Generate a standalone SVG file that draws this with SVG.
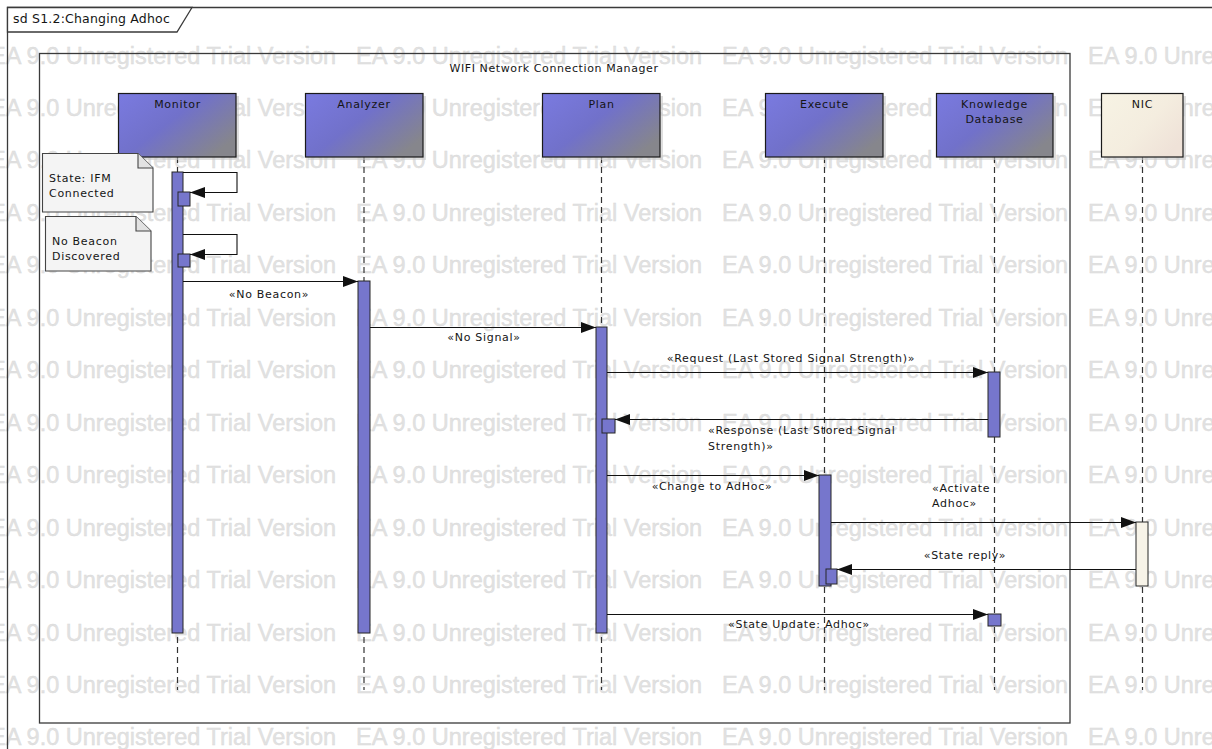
<svg xmlns="http://www.w3.org/2000/svg" xmlns:xlink="http://www.w3.org/1999/xlink" width="1212" height="749" viewBox="0 0 1212 749">
<style>
.lbl{font-family:"DejaVu Sans",Verdana,sans-serif;font-size:11px;letter-spacing:0.7px;fill:#151515}
.ttl{font-family:"DejaVu Sans",Verdana,sans-serif;font-size:12.5px;letter-spacing:0.2px;fill:#151515}
.wm{font-family:"Liberation Sans",Arial,sans-serif;font-size:23.5px;fill:#e2e2e2;stroke:#d9d9d9;stroke-width:0.4}
.frame{fill:none;stroke:#3a3a3a;stroke-width:1.3}
.box{fill:url(#gBox);stroke:#1a1a1a;stroke-width:1.2}
.nic{fill:url(#gNic);stroke:#1a1a1a;stroke-width:1.2}
.shadow{fill:#c8c8c8;opacity:0.6}
.act{fill:#7676cc;stroke:#262626;stroke-width:1}
.actn{fill:#f7f3e8;stroke:#262626;stroke-width:1}
.life{stroke:#333;stroke-width:1.2;stroke-dasharray:6,4;fill:none}
.msg{stroke:#111;stroke-width:1.1;fill:none;marker-end:url(#ah)}
.note{fill:#f4f4f4;stroke:#444;stroke-width:1.1}
</style>
<defs>
<linearGradient id="gBox" x1="0" y1="0" x2="1" y2="0.7">
<stop offset="0" stop-color="#7a7ae0"/>
<stop offset="0.5" stop-color="#7171ca"/>
<stop offset="1" stop-color="#86868c"/>
</linearGradient>
<linearGradient id="gNic" x1="0" y1="0" x2="1" y2="0.7">
<stop offset="0" stop-color="#f7f3e4"/>
<stop offset="0.6" stop-color="#f4eddf"/>
<stop offset="1" stop-color="#efe2d8"/>
</linearGradient>
<marker id="ah" markerUnits="userSpaceOnUse" markerWidth="15" markerHeight="11" refX="15" refY="5.5" orient="auto">
<path d="M0,0 L15,5.5 L0,11 z" fill="#111"/>
</marker>
<text id="wmt" class="wm">EA 9.0 Unregistered Trial Version</text>
</defs>

<rect x="0" y="0" width="1212" height="749" fill="#ffffff"/>

<g id="watermark">
<use xlink:href="#wmt" x="-10" y="63.5"/><use xlink:href="#wmt" x="356" y="63.5"/><use xlink:href="#wmt" x="722" y="63.5"/><use xlink:href="#wmt" x="1088" y="63.5"/>
<use xlink:href="#wmt" x="-10" y="116"/><use xlink:href="#wmt" x="356" y="116"/><use xlink:href="#wmt" x="722" y="116"/><use xlink:href="#wmt" x="1088" y="116"/>
<use xlink:href="#wmt" x="-10" y="168.4"/><use xlink:href="#wmt" x="356" y="168.4"/><use xlink:href="#wmt" x="722" y="168.4"/><use xlink:href="#wmt" x="1088" y="168.4"/>
<use xlink:href="#wmt" x="-10" y="220.9"/><use xlink:href="#wmt" x="356" y="220.9"/><use xlink:href="#wmt" x="722" y="220.9"/><use xlink:href="#wmt" x="1088" y="220.9"/>
<use xlink:href="#wmt" x="-10" y="273.3"/><use xlink:href="#wmt" x="356" y="273.3"/><use xlink:href="#wmt" x="722" y="273.3"/><use xlink:href="#wmt" x="1088" y="273.3"/>
<use xlink:href="#wmt" x="-10" y="325.8"/><use xlink:href="#wmt" x="356" y="325.8"/><use xlink:href="#wmt" x="722" y="325.8"/><use xlink:href="#wmt" x="1088" y="325.8"/>
<use xlink:href="#wmt" x="-10" y="378.2"/><use xlink:href="#wmt" x="356" y="378.2"/><use xlink:href="#wmt" x="722" y="378.2"/><use xlink:href="#wmt" x="1088" y="378.2"/>
<use xlink:href="#wmt" x="-10" y="430.7"/><use xlink:href="#wmt" x="356" y="430.7"/><use xlink:href="#wmt" x="722" y="430.7"/><use xlink:href="#wmt" x="1088" y="430.7"/>
<use xlink:href="#wmt" x="-10" y="483.1"/><use xlink:href="#wmt" x="356" y="483.1"/><use xlink:href="#wmt" x="722" y="483.1"/><use xlink:href="#wmt" x="1088" y="483.1"/>
<use xlink:href="#wmt" x="-10" y="535.6"/><use xlink:href="#wmt" x="356" y="535.6"/><use xlink:href="#wmt" x="722" y="535.6"/><use xlink:href="#wmt" x="1088" y="535.6"/>
<use xlink:href="#wmt" x="-10" y="588"/><use xlink:href="#wmt" x="356" y="588"/><use xlink:href="#wmt" x="722" y="588"/><use xlink:href="#wmt" x="1088" y="588"/>
<use xlink:href="#wmt" x="-10" y="640.5"/><use xlink:href="#wmt" x="356" y="640.5"/><use xlink:href="#wmt" x="722" y="640.5"/><use xlink:href="#wmt" x="1088" y="640.5"/>
<use xlink:href="#wmt" x="-10" y="692.9"/><use xlink:href="#wmt" x="356" y="692.9"/><use xlink:href="#wmt" x="722" y="692.9"/><use xlink:href="#wmt" x="1088" y="692.9"/>
<use xlink:href="#wmt" x="-10" y="745.4"/><use xlink:href="#wmt" x="356" y="745.4"/><use xlink:href="#wmt" x="722" y="745.4"/><use xlink:href="#wmt" x="1088" y="745.4"/>
</g>

<g id="outer-frame">
<path class="frame" d="M7.5,749 V7.5 H1212"/>
<path d="M7.5,7.5 H192 L177,32 H7.5 Z" fill="#ffffff" stroke="#3a3a3a" stroke-width="1.3"/>
<text class="ttl" x="13" y="23">sd S1.2:Changing Adhoc</text>
</g>

<g id="wifi-manager">
<rect class="frame" x="39.5" y="53.5" width="1030.5" height="669.5"/>
<text class="lbl" x="554" y="72" text-anchor="middle" style="letter-spacing:0.6px">WIFI Network Connection Manager</text>
</g>

<g id="lifelines">
<line class="life" x1="177.5" y1="157" x2="177.5" y2="690"/>
<line class="life" x1="364" y1="157" x2="364" y2="690"/>
<line class="life" x1="601.5" y1="157" x2="601.5" y2="690"/>
<line class="life" x1="824.5" y1="157" x2="824.5" y2="690"/>
<line class="life" x1="994.5" y1="157" x2="994.5" y2="690"/>
<line class="life" x1="1142.5" y1="157" x2="1142.5" y2="690"/>
</g>

<g id="monitor">
<rect class="shadow" x="121" y="96" width="118" height="64"/>
<rect class="box" x="118.5" y="93.5" width="117.5" height="63.5"/>
<text class="lbl" x="177.5" y="108" text-anchor="middle">Monitor</text>
</g>
<g id="analyzer">
<rect class="shadow" x="308" y="96" width="118" height="64"/>
<rect class="box" x="305.5" y="93.5" width="117.5" height="63.5"/>
<text class="lbl" x="364" y="108" text-anchor="middle">Analyzer</text>
</g>
<g id="plan">
<rect class="shadow" x="545" y="96" width="118" height="64"/>
<rect class="box" x="542.5" y="93.5" width="117.5" height="63.5"/>
<text class="lbl" x="601.5" y="108" text-anchor="middle">Plan</text>
</g>
<g id="execute">
<rect class="shadow" x="768" y="96" width="118" height="64"/>
<rect class="box" x="765.5" y="93.5" width="117.5" height="63.5"/>
<text class="lbl" x="824.5" y="108" text-anchor="middle">Execute</text>
</g>
<g id="knowledge-database">
<rect class="shadow" x="939" y="96" width="117" height="64"/>
<rect class="box" x="936.5" y="93.5" width="116.5" height="63.5"/>
<text class="lbl" x="994.5" y="108" text-anchor="middle">Knowledge</text>
<text class="lbl" x="994.5" y="123" text-anchor="middle">Database</text>
</g>
<g id="nic">
<rect class="shadow" x="1104" y="96" width="82" height="64"/>
<rect class="nic" x="1101.5" y="93.5" width="81.5" height="63.5"/>
<text class="lbl" x="1142.5" y="108" text-anchor="middle">NIC</text>
</g>

<g id="activations">
<rect class="act" x="172" y="172" width="11" height="461"/>
<rect class="act" x="178" y="192" width="12" height="14"/>
<rect class="act" x="178" y="254" width="12" height="13"/>
<rect class="act" x="358" y="281" width="12" height="352"/>
<rect class="act" x="596" y="327" width="11" height="306"/>
<rect class="act" x="602" y="419" width="13" height="14"/>
<rect class="act" x="988" y="372" width="12" height="65"/>
<rect class="act" x="819" y="475" width="12" height="111"/>
<rect class="act" x="826" y="569" width="11" height="15"/>
<rect class="actn" x="1136" y="522" width="12" height="64"/>
<rect class="act" x="988" y="614" width="13" height="12"/>
</g>

<g id="note-state">
<path class="note" d="M42.5,153.5 H138 L153,168 V212 H42.5 Z"/>
<path d="M138,153.5 V168 H153" fill="#e2e2e2" stroke="#444" stroke-width="1.1"/>
<text class="lbl" x="49" y="182">State: IFM</text>
<text class="lbl" x="49" y="197">Connected</text>
</g>
<g id="note-beacon">
<path class="note" d="M45.5,216.5 H136 L151,231 V271 H45.5 Z"/>
<path d="M136,216.5 V231 H151" fill="#e2e2e2" stroke="#444" stroke-width="1.1"/>
<text class="lbl" x="52" y="245">No Beacon</text>
<text class="lbl" x="52" y="260">Discovered</text>
</g>

<g id="connectors">
<path class="msg" d="M183,172.5 H237 V192.5 H190"/>
<path class="msg" d="M183,234.5 H237 V254.5 H190"/>
<path class="msg" d="M183,281.5 H358"/>
<text class="lbl" x="269" y="298" text-anchor="middle">«No Beacon»</text>
<path class="msg" d="M370,327.5 H596"/>
<text class="lbl" x="484" y="341" text-anchor="middle">«No Signal»</text>
<path class="msg" d="M607,372.5 H988"/>
<text class="lbl" x="791" y="362" text-anchor="middle">«Request (Last Stored Signal Strength)»</text>
<path class="msg" d="M988,419.5 H615"/>
<text class="lbl" x="708" y="434">«Response (Last Stored Signal</text>
<text class="lbl" x="708" y="450">Strength)»</text>
<path class="msg" d="M607,475.5 H819"/>
<text class="lbl" x="712" y="490" text-anchor="middle">«Change to AdHoc»</text>
<path class="msg" d="M831,522.5 H1136"/>
<text class="lbl" x="932" y="492">«Activate</text>
<text class="lbl" x="932" y="507">Adhoc»</text>
<path class="msg" d="M1136,569.5 H837"/>
<text class="lbl" x="965" y="559" text-anchor="middle">«State reply»</text>
<path class="msg" d="M607,614.5 H988"/>
<text class="lbl" x="799" y="628" text-anchor="middle">«State Update: Adhoc»</text>
</g>
</svg>
